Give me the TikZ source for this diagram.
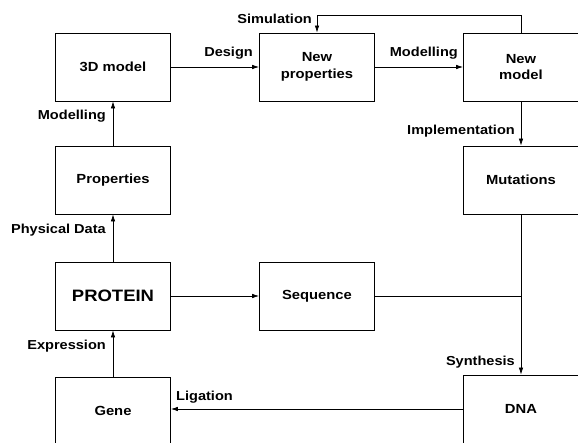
\documentclass[tikz,border=0pt]{standalone}
\usepackage{fontspec}
\setmainfont{Liberation Sans}[FakeStretch=1.12]
\usepackage{tikz}
\usetikzlibrary{arrows.meta}

\tikzset{
  box/.style={draw, line width=0.8pt, minimum width=115pt, minimum height=68pt,
    align=center, font=\fontsize{13.2}{16.5}\selectfont\bfseries},
  lbl/.style={font=\fontsize{13}{15}\selectfont\bfseries, inner sep=1pt},
  flow/.style={line width=0.7pt, -{Latex[length=7pt,width=4.5pt]}}
}

\begin{document}
\begin{tikzpicture}[x=1pt,y=1pt]
    \useasboundingbox (0,0) rectangle (578,442);
    \fill[white] (0,0) rectangle (578,442);
    \node[box] (model3d) at (113,375) {3D model};
    \node[box] (props) at (113,262) {Properties};
    \node[box, font=\fontsize{16.5}{18}\selectfont\bfseries] (protein) at (113,146) {PROTEIN};
    \node[box] (gene) at (113,31) {Gene};
    \node[box] (newprops) at (317,375) {New\\properties};
    \node[box] (newmodel) at (521,375) {New\\model};
    \node[box] (mutations) at (521,262) {Mutations};
    \node[box] (sequence) at (317,146) {Sequence};
    \node[box] (dna) at (521,33) {DNA};
    \coordinate (simtop) at (521,427);
    \coordinate (join) at (521,146);
    % left column
    \draw[flow] (gene) -- (protein);
    \draw[flow] (protein) -- (props);
    \draw[flow] (props) -- (model3d);
    % top row and loop
    \draw[flow] (model3d) -- (newprops);
    \draw[flow] (newprops) -- (newmodel);
    \draw[flow] (newmodel.north) -- (simtop) -| (newprops.north);
    % right column
    \draw[flow] (newmodel) -- (mutations);
    \draw[flow] (mutations) -- (dna);
    \draw[flow] (protein) -- (sequence);
    \draw[line width=0.7pt] (sequence) -- (join);
    \draw[flow] (dna) -- (gene.east |- dna.west);
    % labels
    \node[lbl, anchor=east] at (107,326) {Modelling};
    \node[lbl, anchor=east] at (107,212) {Physical Data};
    \node[lbl, anchor=east] at (107,96) {Expression};
    \node[lbl, anchor=west] at (175,45) {Ligation};
    \node[lbl, anchor=east] at (516,80) {Synthesis};
    \node[lbl, anchor=east] at (516,311) {Implementation};
    \node[lbl, anchor=east] at (313,423) {Simulation};
    \node[lbl, anchor=east] at (254,389) {Design};
    \node[lbl, anchor=east] at (459,389) {Modelling};
\end{tikzpicture}
\end{document}
